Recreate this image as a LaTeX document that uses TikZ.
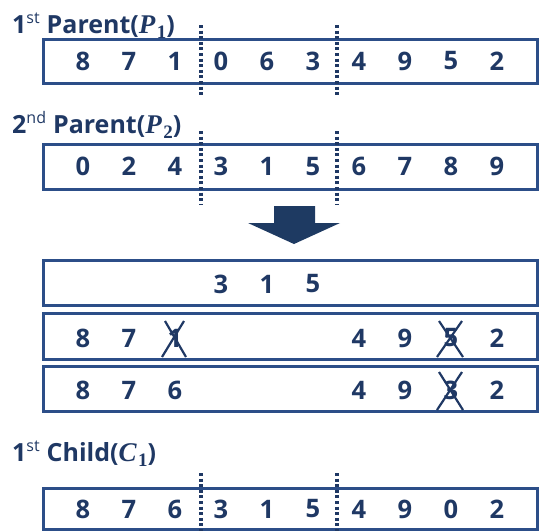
\documentclass[tikz,border=0pt]{standalone}
\usepackage{fontspec}
\setmainfont{Open Sans}[BoldFont={* Bold}]
\newfontfamily\serifmath{Liberation Serif}
\definecolor{ink}{RGB}{31,56,100}
\definecolor{frame}{RGB}{44,78,136}
\definecolor{arrowblue}{RGB}{30,58,98}

\newcommand{\idx}[2]{{\fontsize{27}{27}\selectfont\serifmath\bfseries\itshape #1\kern1.5pt}\raisebox{-0.4ex}{\fontsize{19}{19}\selectfont\serifmath\bfseries #2}}

\tikzset{
  genebox/.style={draw=frame, line width=3pt, minimum width=494pt, inner sep=0pt},
  gene/.style={text=ink, font=\fontsize{25.5}{25.5}\selectfont\bfseries, inner sep=0pt},
  caption/.style={text=ink, font=\fontsize{25}{25}\selectfont\bfseries, anchor=base west, inner sep=0pt},
  cutline/.style={draw=ink, line width=3.2pt, dash pattern=on 3pt off 2.6pt},
  strike/.style={draw=ink, line width=2.2pt},
}

\begin{document}
\begin{tikzpicture}[x=1pt, y=-1pt]
  \useasboundingbox (0,0) rectangle (543,531);

  % first parent
  \node[caption] (lp1) at (12,33) {1\textsuperscript{\fontsize{16}{16}\selectfont\mdseries st} Parent(\idx{P}{1})};
  \node[genebox, minimum height=44pt] (p1) at (290,61) {};
  \foreach \v [count=\i] in {8,7,1,0,6,3,4,9,5,2}
    \node[gene] (p1g\i) at ({83+46*(\i-1)},61) {\v};
  \draw[cutline] (201,25) -- (201,95);
  \draw[cutline] (337,25) -- (337,95);

  % second parent
  \node[caption] (lp2) at (12,133) {2\textsuperscript{\fontsize{16}{16}\selectfont\mdseries nd} Parent(\idx{P}{2})};
  \node[genebox, minimum height=45pt] (p2) at (290,166.5) {};
  \foreach \v [count=\i] in {0,2,4,3,1,5,6,7,8,9}
    \node[gene] (p2g\i) at ({83+46*(\i-1)},166.5) {\v};
  \draw[cutline] (201,131) -- (201,205);
  \draw[cutline] (337,131) -- (337,205);

  % block arrow
  \fill[arrowblue] (274,206) -- (315,206) -- (315,223) -- (340,223)
    -- (294,244) -- (248,223) -- (274,223) -- cycle;

  % swapped segment
  \node[genebox, minimum height=45pt] (sa) at (290,282.5) {};
  \node[gene] (sa4) at (221,284) {3};
  \node[gene] (sa5) at (267,284) {1};
  \node[gene] (sa6) at (313,284) {5};

  % remaining genes of the first parent
  \node[genebox, minimum height=46pt] (sb) at (290,336) {};
  \node[gene] (sb1) at (83,338) {8};
  \node[gene] (sb2) at (129,338) {7};
  \node[gene] (sb3) at (175,338) {1};
  \node[gene] (sb7) at (359,338) {4};
  \node[gene] (sb8) at (405,338) {9};
  \node[gene] (sb9) at (451,338) {5};
  \node[gene] (sb10) at (497,338) {2};
  \draw[strike] ([shift={(-10,-17)}]sb3.center) -- ([shift={(11,19)}]sb3.center);
  \draw[strike] ([shift={(9,-17)}]sb3.center) -- ([shift={(-13,19)}]sb3.center);
  \draw[strike] ([shift={(-12,-17)}]sb9.center) -- ([shift={(12,19)}]sb9.center);
  \draw[strike] ([shift={(11,-17)}]sb9.center) -- ([shift={(-14,19)}]sb9.center);

  % after the first mapping
  \node[genebox, minimum height=45pt] (sc) at (290,388.5) {};
  \node[gene] (sc1) at (83,390) {8};
  \node[gene] (sc2) at (129,390) {7};
  \node[gene] (sc3) at (175,390) {6};
  \node[gene] (sc7) at (359,390) {4};
  \node[gene] (sc8) at (405,390) {9};
  \node[gene] (sc9) at (451,390) {3};
  \node[gene] (sc10) at (497,390) {2};
  \draw[strike] ([shift={(-12,-18)}]sc9.center) -- ([shift={(12,20)}]sc9.center);
  \draw[strike] ([shift={(11,-18)}]sc9.center) -- ([shift={(-14,20)}]sc9.center);

  % child
  \node[caption] (lc1) at (12,461) {1\textsuperscript{\fontsize{16}{16}\selectfont\mdseries st} Child(\idx{C}{1})};
  \node[genebox, minimum height=41pt] (c1) at (290,508.5) {};
  \foreach \v [count=\i] in {8,7,6,3,1,5,4,9,0,2}
    \node[gene] (c1g\i) at ({83+46*(\i-1)},509) {\v};
  \draw[cutline] (201,473) -- (201,531);
  \draw[cutline] (337,473) -- (337,531);
\end{tikzpicture}
\end{document}
